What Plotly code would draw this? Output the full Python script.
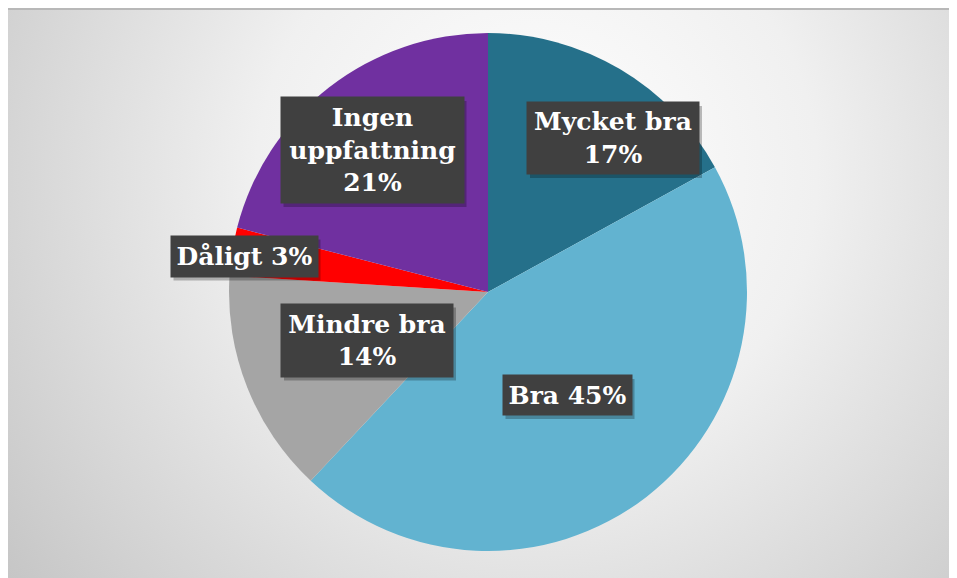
import base64
import plotly.graph_objects as go

# ---- data ----
categories = ["Mycket bra", "Bra", "Mindre bra", "Dåligt", "Ingen uppfattning"]
values = [17, 45, 14, 3, 21]
label_texts = ["Mycket bra<br>17%", "Bra 45%", "Mindre bra<br>14%", "Dåligt 3%", "Ingen<br>uppfattning<br>21%"]
colors = ["#25708A", "#62B3D0", "#A5A5A5", "#FF0000", "#7030A0"]

OFF = 8  # page body margin
W, H = 957 - OFF, 578 - OFF
L, T, PW, PH = 229 - OFF, 33 - OFF, 518, 518
R, B = W - L - PW, H - T - PH

def px2paper(px, py):
    # reference-screen pixel -> paper coords
    return (px - OFF - L) / PW, (H - B - (py - OFF)) / PH

fig = go.Figure(go.Pie(
    labels=categories, values=values, sort=False, direction="clockwise",
    rotation=0, marker=dict(colors=colors, line=dict(width=0)),
    textinfo="none", hoverinfo="label+percent", showlegend=False,
))

# label boxes: centre (px), width, height
boxes = [((613, 138), 172, 72), ((567, 395), 129, 40), ((367, 340), 172, 73),
         ((244, 256), 147, 41), ((372, 150), 183, 106)]
font = dict(family="DejaVu Serif", size=25, color="white", weight="bold")
anns, shapes = [], []
for txt, ((cx, cy), bw, bh) in zip(label_texts, boxes):
    x, y = px2paper(cx, cy)
    sx, sy = px2paper(cx + 3, cy + 4)
    hw, hh = bw / 2 / PW, bh / 2 / PH
    shapes.append(dict(type="rect", xref="paper", yref="paper", x0=sx - hw, x1=sx + hw,
                       y0=sy - hh, y1=sy + hh, fillcolor="rgba(0,0,0,0.25)",
                       line=dict(width=0), layer="above"))
    anns.append(dict(x=x, y=y, xref="paper", yref="paper", text=txt, showarrow=False,
                     xanchor="center", yanchor="middle", width=bw, height=bh,
                     bgcolor="#404040", borderpad=0, font=font))

svg = '''<svg xmlns="http://www.w3.org/2000/svg" width="950" height="574" viewBox="0 0 950 574">
<defs><radialGradient id="g" gradientUnits="userSpaceOnUse" cx="530" cy="170" r="700">
<stop offset="0" stop-color="#ffffff"/><stop offset="0.4" stop-color="#f0f0f0"/><stop offset="1" stop-color="#c2c2c2"/>
</radialGradient></defs><rect width="950" height="574" fill="url(#g)"/></svg>'''
src = "data:image/svg+xml;base64," + base64.b64encode(svg.encode()).decode()
x0, y0 = px2paper(7, 4)
fig.add_layout_image(dict(source=src, xref="paper", yref="paper", x=x0, y=y0,
                          sizex=950 / PW, sizey=574 / PH, sizing="stretch",
                          xanchor="left", yanchor="top", layer="below"))
lx0, ly = px2paper(8, 9)
lx1, _ = px2paper(957, 9)
shapes.append(dict(type="line", xref="paper", yref="paper", x0=lx0, x1=lx1, y0=ly, y1=ly,
                   line=dict(color="#b8b8b8", width=2), layer="above"))

fig.update_layout(width=W, height=H, margin=dict(l=L, r=R, t=T, b=B),
                  paper_bgcolor="white", plot_bgcolor="rgba(0,0,0,0)",
                  annotations=anns, shapes=shapes)
fig.write_html("out.html")
